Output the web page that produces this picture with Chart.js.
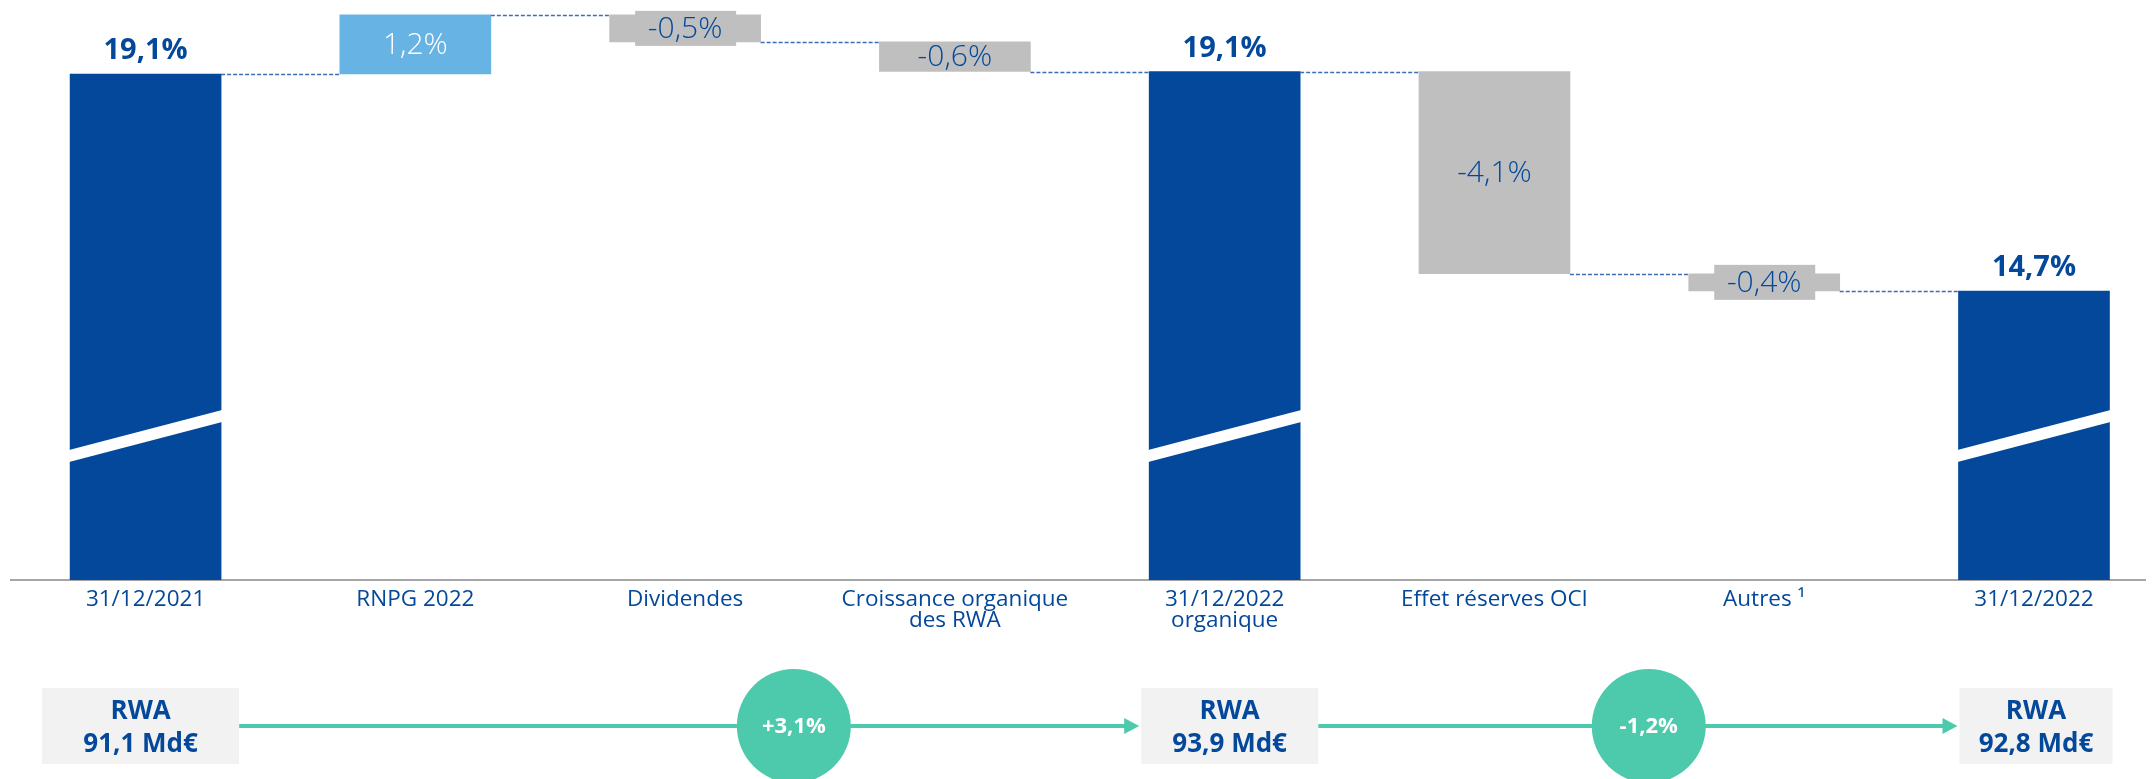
<!DOCTYPE html>
<html>
<head>
<meta charset="utf-8">
<script src="https://cdn.jsdelivr.net/npm/chart.js@4.4.0/dist/chart.umd.min.js"></script>
<style>
  html, body { margin: 0; padding: 0; background: #fff; overflow: hidden; }
  canvas { display: block; }
</style>
</head>
<body>
<canvas id="myChart" width="2154" height="779"></canvas>
<script>
// categories (multi-line labels as arrays)
const categories = [
    ['31/12/2021'],
    ['RNPG 2022'],
    ['Dividendes'],
    ['Croissance organique', 'des RWA'],
    ['31/12/2022', 'organique'],
    ['Effet réserves OCI'],
    ['Autres ¹'],
    ['31/12/2022']
];
// CET1 ratio, floating bars: start and end of each step (%)
const barStart = [0, 19.1, 20.3, 19.75, 0, 19.15, 15.05, 0];
const barEnd = [19.1, 20.3, 19.75, 19.15, 19.15, 15.05, 14.7, 14.7];
const valueLabels = ['19,1%', '1,2%', '-0,5%', '-0,6%', '19,1%', '-4,1%', '-0,4%', '14,7%'];

// RWA row under the chart
const rwaIndex = [0, 4, 7];
const rwaLabels = ['91,1 Md€', '93,9 Md€', '92,8 Md€'];
const rwaChange = ['+3,1%', '-1,2%'];
const rwaChangePos = [2.403, 5.572];

const DARK = '#03489A';
const LIGHT = '#67B3E3';
const GREY = '#BFBFBF';
const TEAL = '#4DCAAB';
const FONT = '"Open Sans", "Noto Sans", sans-serif';

function barColor(i) {
    if (barStart[i] === 0) return DARK;
    return barEnd[i] > barStart[i] ? LIGHT : GREY;
}

const waterfallPlugin = {
    id: 'waterfall',
    afterDatasetsDraw(chart) {
        const ctx = chart.ctx;
        const meta = chart.getDatasetMeta(0);
        const yScale = chart.scales.y;
        const bottom = chart.chartArea.bottom;
        ctx.save();

        // dashed connectors
        ctx.strokeStyle = '#3D6DB5';
        ctx.lineWidth = 1.5;
        ctx.setLineDash([4, 2]);
        for (let i = 0; i < meta.data.length - 1; i++) {
            const a = meta.data[i], b = meta.data[i + 1];
            const yy = Math.round(yScale.getPixelForValue(barEnd[i])) + 0.5;
            ctx.beginPath();
            ctx.moveTo(a.x + a.width / 2, yy);
            ctx.lineTo(b.x - b.width / 2, yy);
            ctx.stroke();
        }
        ctx.setLineDash([]);

        ctx.textAlign = 'center';
        ctx.textBaseline = 'middle';
        meta.data.forEach((bar, i) => {
            const left = bar.x - bar.width / 2, right = bar.x + bar.width / 2;
            if (barStart[i] === 0) {
                // axis break stripe
                ctx.fillStyle = '#fff';
                ctx.beginPath();
                ctx.moveTo(left - 1, bottom - 130);
                ctx.lineTo(right + 1, bottom - 170);
                ctx.lineTo(right + 1, bottom - 158);
                ctx.lineTo(left - 1, bottom - 118);
                ctx.closePath();
                ctx.fill();
                ctx.font = 'bold 29px ' + FONT;
                ctx.fillStyle = DARK;
                ctx.fillText(valueLabels[i], bar.x, bar.y - 23);
            } else {
                const h = Math.abs(bar.base - bar.y);
                const cy = (bar.y + bar.base) / 2;
                if (h < 28) {
                    ctx.fillStyle = barColor(i);
                    ctx.fillRect(bar.x - 50, cy - 17.5, 101, 35);
                }
                ctx.font = '300 30px ' + FONT;
                ctx.fillStyle = barEnd[i] > barStart[i] ? '#fff' : DARK;
                ctx.fillText(valueLabels[i], bar.x, cy + 1);
            }
        });
        ctx.restore();
    },
    afterDraw(chart) {
        const ctx = chart.ctx;
        const x = chart.scales.x;
        const bottom = chart.chartArea.bottom;
        const lineY = bottom + 146;
        const boxW = [197, 177, 153];
        const boxShift = [-5, 5, 2];
        const boxH = 76;
        ctx.save();

        const boxes = rwaIndex.map((idx, k) => {
            const cx = x.getPixelForValue(idx) + boxShift[k];
            return { cx: cx, left: cx - boxW[k] / 2, right: cx + boxW[k] / 2 };
        });

        // arrows
        ctx.strokeStyle = TEAL;
        ctx.fillStyle = TEAL;
        ctx.lineWidth = 4;
        for (let k = 0; k < boxes.length - 1; k++) {
            const x0 = boxes[k].right;
            const x1 = boxes[k + 1].left - 2;
            ctx.beginPath();
            ctx.moveTo(x0, lineY);
            ctx.lineTo(x1 - 12, lineY);
            ctx.stroke();
            ctx.beginPath();
            ctx.moveTo(x1 - 15, lineY - 8);
            ctx.lineTo(x1, lineY);
            ctx.lineTo(x1 - 15, lineY + 8);
            ctx.closePath();
            ctx.fill();
        }

        // boxes
        ctx.textAlign = 'center';
        ctx.textBaseline = 'middle';
        boxes.forEach((b, k) => {
            ctx.fillStyle = '#F2F2F2';
            ctx.fillRect(b.left, lineY - 38, b.right - b.left, boxH);
            ctx.fillStyle = DARK;
            ctx.font = 'bold 26px ' + FONT;
            ctx.fillText('RWA', b.cx, lineY - 14);
            ctx.fillText(rwaLabels[k], b.cx, lineY + 19);
        });

        // change circles
        rwaChange.forEach((txt, k) => {
            const cx = x.getPixelForValue(rwaChangePos[k]);
            ctx.fillStyle = TEAL;
            ctx.beginPath();
            ctx.arc(cx, lineY, 57, 0, Math.PI * 2);
            ctx.fill();
            ctx.fillStyle = '#fff';
            ctx.font = 'bold 22px ' + FONT;
            ctx.fillText(txt, cx, lineY + 1);
        });
        ctx.restore();
    }
};

const points = categories.map((c, i) => ({ x: i, y: [barStart[i], barEnd[i]] }));

new Chart(document.getElementById('myChart').getContext('2d'), {
    type: 'bar',
    data: {
        datasets: [{
            data: points,
            backgroundColor: categories.map((c, i) => barColor(i)),
            borderWidth: 0,
            barThickness: 151,
            clip: 0
        }]
    },
    options: {
        responsive: false,
        animation: false,
        layout: { padding: { left: 10.7, right: 0, top: 0, bottom: 0 } },
        plugins: { legend: { display: false }, tooltip: { enabled: false } },
        scales: {
            x: {
                type: 'linear',
                offset: false,
                min: -0.5,
                max: 7.4115,
                grid: { display: false, drawTicks: false },
                border: { display: true, color: '#A6A6A6', width: 2 },
                ticks: {
                    stepSize: 1,
                    autoSkip: false,
                    maxRotation: 0,
                    padding: 9,
                    color: DARK,
                    font: { family: FONT, size: 22.5, weight: 400, lineHeight: 0.93 },
                    callback: v => (Number.isInteger(v) && categories[v]) ? categories[v] : ''
                },
                afterFit: scale => { scale.height = 199; }
            },
            y: {
                display: false,
                min: 8.84,
                max: 20.6
            }
        }
    },
    plugins: [waterfallPlugin]
});
</script>
</body>
</html>
